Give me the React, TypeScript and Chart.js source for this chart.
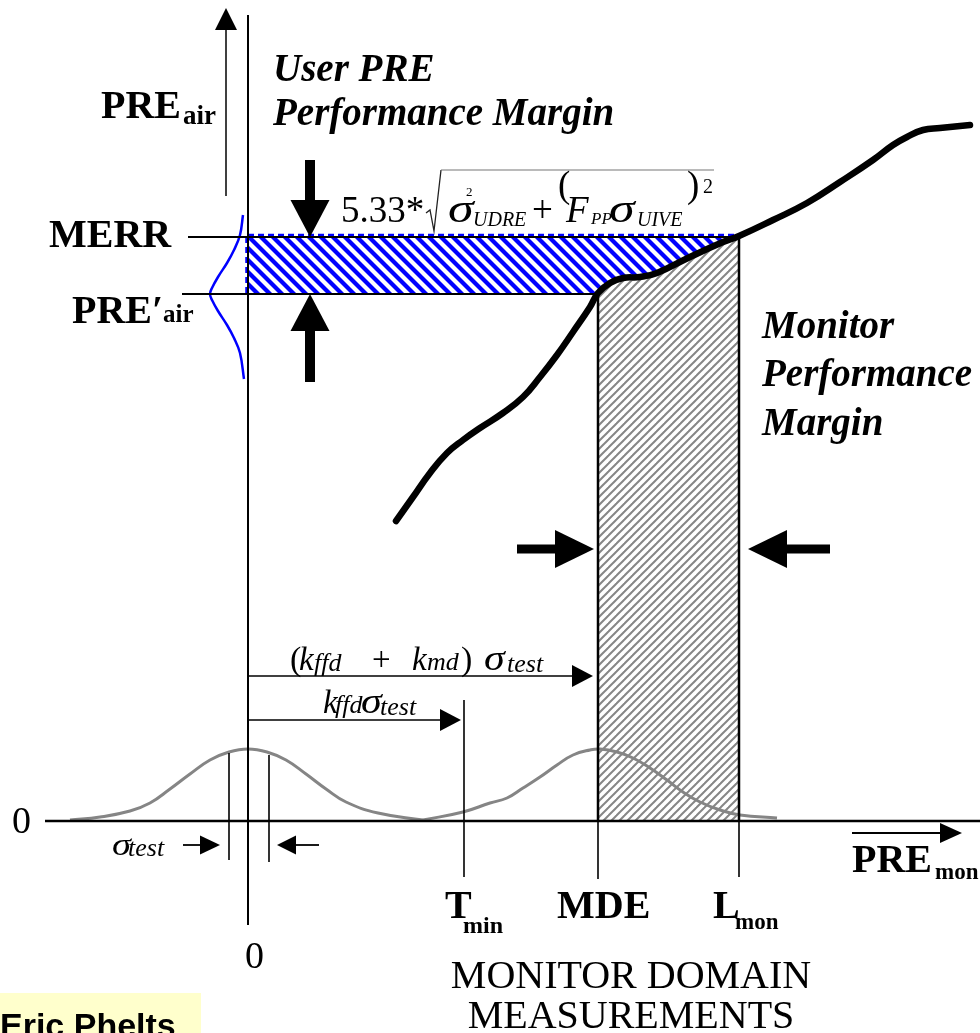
import { useEffect, useRef } from "react";
import { Chart, registerables } from "chart.js";

Chart.register(...registerables);

// Plane: x = PRE_mon from the zero line, y = PRE_air from the zero line
const X_MIN = -248;
const X_MAX = 732;
const Y_MIN = -212;
const Y_MAX = 821;

// Key levels on both axes
const MERR = 584;
const PRE_AIR_PRIME = 527;
const T_MIN = 216;
const MDE = 350;
const L_MON = 491;

// PRE_air as a function of PRE_mon
const monitorX = [148, 165, 182, 199, 215, 232, 255, 275, 292, 309, 325, 342, 350, 362, 375, 392, 409, 442, 475, 491, 525, 559, 592, 625, 645, 659, 675, 692, 722];
const monitorY = [300, 324, 348, 368, 381, 393, 408, 424, 444, 466, 489, 514, 528, 538, 543, 544, 548, 564, 579, 585, 601, 618, 639, 661, 676, 684, 691, 693, 696];

// Test statistic distribution centred on zero
const testPdfX = [-178, -148, -118, -98, -78, -58, -38, -19, 0, 19, 38, 58, 78, 98, 130, 175];
const testPdfY = [1, 4, 10, 18, 32, 47, 61, 69, 72, 69, 61, 47, 32, 19, 8, 1];

// Test statistic distribution centred on the MDE
const mdePdfX = [175, 215, 242, 259, 275, 292, 309, 325, 342, 352, 369, 385, 402, 419, 435, 452, 472, 492, 529];
const mdePdfY = [1, 9, 18, 23, 33, 44, 56, 66, 71, 72, 69, 63, 53, 41, 29, 19, 11, 6, 3];

// Airborne PRE distribution around PRE'_air, drawn sideways
const airPdfX = [-5, -8, -14, -21, -30, -36, -38, -36, -30, -21, -14, -8, -4];
const airPdfY = [606, 586, 571, 558, 544, 533, 527, 521, 510, 496, 483, 468, 442];

const SERIF = '"Liberation Serif", "Times New Roman", serif';
const SANS = '"Liberation Sans", Arial, sans-serif';

function makeHatch(period: number, width: number, color: string, dir: "/" | "\\") {
  const c = document.createElement("canvas");
  c.width = period;
  c.height = period;
  const g = c.getContext("2d")!;
  g.fillStyle = "#fff";
  g.fillRect(0, 0, period, period);
  g.strokeStyle = color;
  g.lineWidth = width;
  const P = period;
  for (const k of [-1, 0, 1, 2]) {
    const cc = k * P;
    g.beginPath();
    if (dir === "/") {
      g.moveTo(cc + P, -P);
      g.lineTo(cc - 2 * P, 2 * P);
    } else {
      g.moveTo(cc - P, -P);
      g.lineTo(cc + 2 * P, 2 * P);
    }
    g.stroke();
  }
  return g.createPattern(c, "repeat")!;
}

const pts = (xs: number[], ys: number[]) => xs.map((v, i) => ({ x: v, y: ys[i] }));

export default function App() {
  const ref = useRef<HTMLCanvasElement>(null);

  useEffect(() => {
    const canvas = ref.current!;
    const grayHatch = makeHatch(8, 2.0, "#868686", "/");
    const blueHatch = makeHatch(12, 4.2, "#0000ff", "\\");

    const monitor = pts(monitorX, monitorY);
    const margin = monitor.filter((p) => p.x >= MDE && p.x <= L_MON);

    const diagram = {
      id: "diagram",
      beforeDatasetsDraw(chart: any) {
        const { ctx, scales } = chart;
        const X = (v: number) => scales.x.getPixelForValue(v);
        const Y = (v: number) => scales.y.getPixelForValue(v);
        ctx.save();
        // user performance margin band
        ctx.fillStyle = blueHatch;
        ctx.fillRect(X(0), Y(MERR), X(L_MON) - X(0), Y(PRE_AIR_PRIME) - Y(MERR));
        ctx.strokeStyle = "#0000ff";
        ctx.lineWidth = 2.5;
        ctx.setLineDash([6, 4]);
        ctx.beginPath();
        ctx.moveTo(X(0), Y(MERR) - 2);
        ctx.lineTo(X(L_MON), Y(MERR) - 2);
        ctx.moveTo(X(0) - 1.5, Y(MERR));
        ctx.lineTo(X(0) - 1.5, Y(PRE_AIR_PRIME));
        ctx.stroke();
        ctx.restore();
      },
      afterDatasetsDraw(chart: any) {
        const { ctx, scales } = chart;
        const X = (v: number) => scales.x.getPixelForValue(v);
        const Y = (v: number) => scales.y.getPixelForValue(v);
        ctx.save();
        ctx.lineCap = "butt";

        const line = (x1: number, y1: number, x2: number, y2: number, w: number, color = "#000") => {
          ctx.beginPath();
          ctx.moveTo(X(x1), Y(y1));
          ctx.lineTo(X(x2), Y(y2));
          ctx.lineWidth = w;
          ctx.strokeStyle = color;
          ctx.stroke();
        };
        const arrowH = (x1: number, x2: number, yv: number, head: number, half: number, shaft: number) => {
          const p1 = X(x1), p2 = X(x2), py = Y(yv);
          const dir = Math.sign(p2 - p1);
          const base = p2 - dir * head;
          ctx.fillStyle = "#000";
          ctx.strokeStyle = "#000";
          if (shaft > 3) {
            ctx.fillRect(Math.min(p1, base), py - shaft / 2, Math.abs(base - p1) + 1, shaft);
          } else {
            ctx.beginPath();
            ctx.moveTo(p1, py);
            ctx.lineTo(base, py);
            ctx.lineWidth = shaft;
            ctx.stroke();
          }
          ctx.beginPath();
          ctx.moveTo(p2, py);
          ctx.lineTo(base, py - half);
          ctx.lineTo(base, py + half);
          ctx.closePath();
          ctx.fill();
        };
        const arrowV = (y1: number, y2: number, xv: number, head: number, half: number, shaft: number) => {
          const p1 = Y(y1), p2 = Y(y2), px = X(xv);
          const dir = Math.sign(p2 - p1);
          const base = p2 - dir * head;
          ctx.fillStyle = "#000";
          ctx.strokeStyle = "#000";
          if (shaft > 3) {
            ctx.fillRect(px - shaft / 2, Math.min(p1, base), shaft, Math.abs(base - p1) + 1);
          } else {
            ctx.beginPath();
            ctx.moveTo(px, p1);
            ctx.lineTo(px, base);
            ctx.lineWidth = shaft;
            ctx.stroke();
          }
          ctx.beginPath();
          ctx.moveTo(px, p2);
          ctx.lineTo(px - half, base);
          ctx.lineTo(px + half, base);
          ctx.closePath();
          ctx.fill();
        };
        const text = (s: string, xv: number, yv: number, font: string, align: CanvasTextAlign = "left", sx = 1) => {
          ctx.font = font;
          ctx.textAlign = align;
          ctx.textBaseline = "alphabetic";
          ctx.fillStyle = "#000";
          if (sx === 1) {
            ctx.fillText(s, X(xv), Y(yv));
          } else {
            ctx.save();
            ctx.translate(X(xv), Y(yv));
            ctx.scale(sx, 1);
            ctx.fillText(s, 0, 0);
            ctx.restore();
          }
        };

        // axes
        line(0, 806, 0, -104, 2);
        line(-203, 0, X_MAX, 0, 2.5);
        arrowV(625, 813, -22, 22, 11, 1.5);

        // level lines and band edges
        line(-60, MERR, L_MON, MERR, 2.2);
        line(-66, PRE_AIR_PRIME, MDE, PRE_AIR_PRIME, 2.2);
        line(MDE, PRE_AIR_PRIME + 1, MDE, 0, 2.5);
        line(L_MON, MERR, L_MON, 0, 2.5);
        line(MDE, 0, MDE, -58, 1.6);
        line(L_MON, 0, L_MON, -56, 1.6);
        line(T_MIN, 121, T_MIN, -56, 1.6);
        line(-19, 68, -19, -39, 1.6);
        line(21, 66, 21, -41, 1.6);

        // margin arrows
        arrowV(661, MERR, 62, 37, 19.5, 10);
        arrowV(440, PRE_AIR_PRIME, 62, 37, 19.5, 10);
        arrowH(269, MDE - 4, 272, 39, 19, 9);
        arrowH(581, L_MON + 9, 272, 39, 19, 9);

        // threshold arrows
        arrowH(0, MDE - 5, 145, 21, 11, 1.5);
        arrowH(0, T_MIN - 3, 101, 21, 11, 1.5);
        arrowH(-65, -28, -24, 20, 9.5, 1.8);
        arrowH(71, 29, -24, 19, 9.5, 1.8);
        arrowH(604, 714, -12, 22, 10, 2);

        const B = (s: number) => `bold ${s}px ${SERIF}`;
        const BI = (s: number) => `italic bold ${s}px ${SERIF}`;
        const R = (s: number) => `${s}px ${SERIF}`;
        const I = (s: number) => `italic ${s}px ${SERIF}`;

        // vertical axis labels
        text("PRE", -147, 703, B(40));
        text("air", -65, 697, B(27));
        text("MERR", -199, 574, B(40));
        text("PRE\u2032", -176, 498, B(40));
        text("air", -85, 499, B(25));

        text("User PRE", 25, 740, BI(39));
        text("Performance Margin", 25, 696, BI(39));
        text("Monitor", 514, 483, BI(39));
        text("Performance", 514, 435, BI(39));
        text("Margin", 514, 386, BI(39));

        // 5.33*sqrt(sigma_UDRE^2 + (F_PP sigma_UIVE)^2)
        text("5.33*", 93, 599, R(37));
        ctx.beginPath();
        ctx.moveTo(X(178), Y(608));
        ctx.lineTo(X(182), Y(611));
        ctx.lineTo(X(186), Y(590));
        ctx.lineTo(X(193), Y(651));
        ctx.strokeStyle = "#222";
        ctx.lineWidth = 1.3;
        ctx.stroke();
        line(193, 651, 466, 651, 1.2, "#777");
        text("\u03c3", 200, 599, I(40), "left", 1.3);
        text("2", 218, 625, R(13));
        text("UDRE", 225, 595, I(20));
        text("+", 284, 599, R(37));
        text("(", 310, 624, R(37));
        text("F", 318, 599, I(37));
        text("PP", 343, 597, I(17));
        text("\u03c3", 361, 599, I(40), "left", 1.3);
        text("UIVE", 389, 595, I(20));
        text(")", 439, 624, R(37));
        text("2", 455, 628, R(20));

        // (k_ffd + k_md) sigma_test and k_ffd sigma_test
        text("(", 42, 151, R(34));
        text("k", 51, 151, I(33));
        text("ffd", 66, 150, I(26));
        text("+", 124, 151, R(33));
        text("k", 164, 151, I(33));
        text("md", 179, 151, I(26));
        text(")", 213, 151, R(34));
        text("\u03c3", 236, 151, I(35), "left", 1.2);
        text("test", 259, 149, I(26));

        text("k", 75, 108, I(33));
        text("ffd", 87, 108, I(26));
        text("\u03c3", 113, 108, I(35), "left", 1.2);
        text("test", 132, 106, I(26));

        text("\u03c3", -136, -34, I(32), "left", 1.2);
        text("test", -120, -35, I(26));

        // horizontal axis labels
        text("0", -236, -12, R(38));
        text("0", -3, -147, R(38));
        text("T", 197, -97, B(40));
        text("min", 215, -112, B(24));
        text("MDE", 309, -97, B(40));
        text("L", 465, -97, B(40));
        text("mon", 487, -108, B(23));
        text("PRE", 604, -51, B(40));
        text("mon", 687, -58, B(23));
        text("MONITOR DOMAIN", 383, -167, R(40), "center");
        text("MEASUREMENTS", 383, -207, R(40), "center");

        // author tag
        ctx.fillStyle = "#ffffcc";
        ctx.fillRect(X(-248), Y(-172), X(-47) - X(-248), Y(Y_MIN) - Y(-172));
        text("Eric Phelts", -248, -216, `bold 34px ${SANS}`);

        ctx.restore();
      },
    };

    const chart = new Chart(canvas, {
      type: "line",
      data: {
        datasets: [
          {
            data: monitor,
            borderColor: "#000",
            borderWidth: 6.5,
            borderCapStyle: "round",
            borderJoinStyle: "round",
            tension: 0.45,
            fill: false,
            order: 0,
          },
          {
            data: pts(airPdfX, airPdfY),
            borderColor: "#0000ff",
            borderWidth: 2.5,
            tension: 0.4,
            fill: false,
            order: 1,
          },
          {
            data: pts(testPdfX, testPdfY),
            borderColor: "#858585",
            borderWidth: 3,
            tension: 0.45,
            fill: false,
            order: 2,
          },
          {
            data: pts(mdePdfX, mdePdfY),
            borderColor: "#858585",
            borderWidth: 3,
            tension: 0.45,
            fill: false,
            order: 2,
          },
          {
            data: margin,
            borderColor: "rgba(0,0,0,0)",
            borderWidth: 0,
            backgroundColor: grayHatch as any,
            tension: 0.45,
            fill: "origin",
            order: 5,
          },
        ] as any,
      },
      options: {
        responsive: false,
        maintainAspectRatio: false,
        devicePixelRatio: 1,
        animation: false,
        events: [],
        layout: { padding: 0 },
        elements: { point: { radius: 0, hoverRadius: 0 } },
        plugins: { legend: { display: false }, tooltip: { enabled: false }, title: { display: false } },
        scales: {
          x: { type: "linear", display: false, min: X_MIN, max: X_MAX },
          y: { type: "linear", display: false, min: Y_MIN, max: Y_MAX },
        },
      },
      plugins: [diagram],
    } as any);

    return () => chart.destroy();
  }, []);

  return (
    <div style={{ position: "absolute", left: 0, top: 0, width: 980, height: 1033, background: "#fff" }}>
      <canvas ref={ref} width={980} height={1033} style={{ display: "block" }} />
    </div>
  );
}
